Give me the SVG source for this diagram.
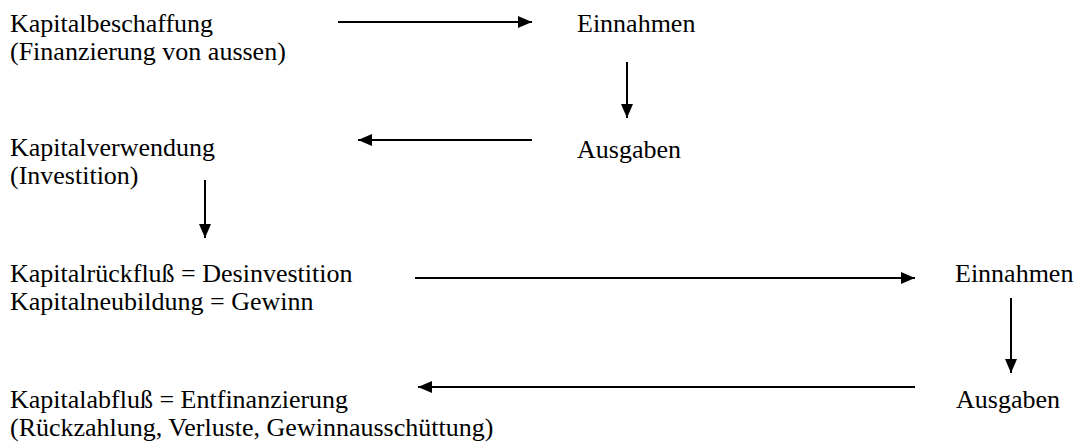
<svg xmlns="http://www.w3.org/2000/svg" width="1078" height="446" viewBox="0 0 1078 446">
<style>
text{font-family:'Liberation Serif','Times New Roman',serif;font-size:26px;fill:#000}
.c{stroke:#000;stroke-width:2;fill:none}
</style>
<defs>
<marker id="ah" markerWidth="14" markerHeight="12" refX="14" refY="6" orient="auto" markerUnits="userSpaceOnUse">
<path d="M0,0 L14,6 L0,12 Z" fill="#000"/>
</marker>
</defs>
<rect width="1078" height="446" fill="#fff"/>
<g id="kapitalbeschaffung"><text x="10" y="32">Kapitalbeschaffung</text><text x="10" y="60">(Finanzierung von aussen)</text></g>
<g id="einnahmen1"><text x="577" y="32">Einnahmen</text></g>
<g id="ausgaben1"><text x="577" y="158">Ausgaben</text></g>
<g id="kapitalverwendung"><text x="10" y="156">Kapitalverwendung</text><text x="10" y="184">(Investition)</text></g>
<g id="kapitalrueckfluss"><text x="10" y="282">Kapitalrückfluß = Desinvestition</text><text x="10" y="310">Kapitalneubildung = Gewinn</text></g>
<g id="einnahmen2"><text x="955" y="282">Einnahmen</text></g>
<g id="ausgaben2"><text x="956" y="408">Ausgaben</text></g>
<g id="kapitalabfluss"><text x="10" y="408">Kapitalabfluß = Entfinanzierung</text><text x="10" y="436">(Rückzahlung, Verluste, Gewinnausschüttung)</text></g>
<g id="connectors">
<line class="c" x1="338" y1="22" x2="532" y2="22" marker-end="url(#ah)"/>
<line class="c" x1="627" y1="62" x2="627" y2="118" marker-end="url(#ah)"/>
<line class="c" x1="532" y1="140" x2="358" y2="140" marker-end="url(#ah)"/>
<line class="c" x1="205" y1="180" x2="205" y2="238" marker-end="url(#ah)"/>
<line class="c" x1="415" y1="278" x2="915" y2="278" marker-end="url(#ah)"/>
<line class="c" x1="1011" y1="298" x2="1011" y2="373" marker-end="url(#ah)"/>
<line class="c" x1="915" y1="387" x2="418" y2="387" marker-end="url(#ah)"/>
</g>
</svg>
